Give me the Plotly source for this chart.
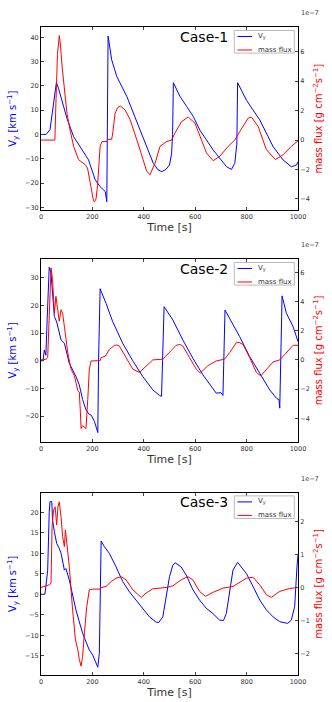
import plotly.graph_objects as go
from plotly.subplots import make_subplots

# ---- Case-1 ----
case1_t_vy = [0, 20, 35, 45, 52, 60, 68, 81, 101, 127, 150, 166, 185, 198, 211, 230, 250, 256,
              258, 261, 275, 295, 334, 360, 385, 411, 437, 455, 470, 485, 500, 508, 512, 515,
              541, 567, 593, 618, 670, 722, 741, 754, 762, 765, 800, 851, 903, 942, 974, 994, 1000]
case1_vy = [0, 0, 2, 10, 17, 21.4, 19, 14, 6.6, -0.9, -4.5, -7, -10.5, -14.6, -18.7, -21.5, -23.5, -27.7,
            0, 40.5, 30.7, 23.8, 15.6, 8.7, 1.8, -5, -11.9, -14.5, -15.3, -14.5, -12.6, -8, 0, 21.3,
            15.6, 11.5, 7.3, 1.8, -6.4, -13.3, -14.4, -11.9, -4, 21.3, 14, 6, -5, -10.5, -13.3, -12.6, -11.2]
# mass flux in units of 1e-7 g cm^-2 s^-1
case1_t_mf = [0, 54, 58, 64, 71, 75, 82, 88, 101, 114, 127, 146, 172, 181, 191, 198, 204, 208, 214,
              220, 226, 230, 237, 257, 260, 275, 280, 288, 298, 308, 327, 347, 373, 392, 411, 424,
              444, 463, 489, 508, 521, 547, 573, 599, 625, 644, 670, 696, 728, 754, 774, 806, 819,
              845, 877, 912, 942, 974, 1000]
case1_mf = [0, 0, 2.5, 5.8, 7.1, 6.6, 5.0, 3.86, 1.83, 0.59, -0.43, -1.33, -1.67, -1.9, -2.8, -3.6,
            -4.1, -4.2, -4.0, -3.1, -1.5, -0.43, -0.1, -0.1, 0.05, 0.05, 0.6, 1.8, 2.2, 2.32, 2.05,
            1.38, 0, -1.1, -2.1, -2.35, -1.56, -0.43, -0.1, 0, 0.47, 1.26, 1.56, 1.15, 0, -0.88,
            -1.4, -1.1, -0.43, 0, 0.59, 1.49, 1.56, 0.92, -0.65, -1.33, -1.0, -0.43, -0.05]

# ---- Case-2 ----
case2_t_vy = [0, 8, 13, 19, 24, 32, 39, 45, 52, 61, 71, 78, 91, 110, 136, 149, 162, 175, 186, 195,
              208, 221, 224, 230, 253, 279, 318, 357, 396, 435, 461, 469, 473, 479, 513, 552, 591,
              630, 682, 700, 708, 711, 716, 773, 812, 851, 890, 916, 926, 929, 933, 938, 955, 981, 1000]
case2_vy = [0, 0, 3.9, 2, 15, 33.7, 31.6, 23, 16, 14, 10, 7.5, 6.3, -0.9, -5.7, -8.7, -14, -17.7,
            -19.2, -19.6, -21.9, -25.9, 0, 26, 20.7, 14.1, 6.3, 0, -5.7, -10.5, -12.5, -12.8, 0,
            19.5, 14.7, 7.5, 0.9, -5.1, -11.7, -11.5, -12.5, 0, 18.3, 8.7, 1.5, -4.5, -10.5, -13.5,
            -14.1, -17.1, 0, 23.4, 17.1, 12.3, 6.9]
case2_t_mf = [0, 20, 26, 32, 39, 45, 52, 58, 65, 71, 78, 84, 91, 104, 117, 130, 143, 149, 153, 156,
              162, 169, 175, 182, 188, 195, 230, 234, 251, 266, 286, 295, 305, 331, 357, 383, 409,
              435, 474, 500, 526, 540, 552, 578, 604, 620, 649, 682, 714, 734, 760, 770, 786, 812,
              838, 855, 877, 903, 929, 955, 981, 1000]
case2_mf = [0, 0.05, 0.15, 3, 6.3, 5.5, 3.2, 4.35, 3.55, 2.65, 3.44, 3.2, 2.3, 0.5, -0.63, -1.09,
            -2.1, -2.2, -3.5, -4.7, -4.5, -4.6, -4.7, -2.7, -0.63, -0.07, -0.05, 0.15, 0.27, 0.72,
            1.0, 1.02, 0.95, 0.16, -0.63, -0.86, -0.4, 0, 0.05, 0.5, 1.0, 1.06, 0.95, 0.16, -0.63,
            -0.9, -0.4, -0.07, 0.05, 0.5, 1.18, 1.2, 1.06, 0.16, -0.86, -1.09, -0.63, -0.14, 0,
            0.5, 1.0, 1.0]

# ---- Case-3 ----
case3_t_vy = [0, 15, 19, 26, 32, 35, 42, 45, 52, 61, 69, 78, 91, 97, 110, 123, 136, 149, 162, 175,
              188, 201, 214, 221, 227, 230, 234, 247, 266, 292, 318, 344, 370, 396, 422, 448, 458,
              474, 487, 500, 513, 522, 545, 565, 591, 617, 643, 669, 695, 710, 721, 734, 747, 765,
              779, 799, 825, 851, 877, 903, 929, 960, 974, 987, 996, 1000]
case3_vy = [0, 0, 1.9, 5.9, 20, 22.6, 22.6, 18.1, 15.3, 12.4, 11.5, 10, 5.9, 6.3, 3.5, -0.6, -3.8,
            -6.7, -9.5, -11.6, -13.6, -14.8, -16.9, -17.8, -14.4, 0, 13, 11.6, 10, 6.7, 3.1, 0.6,
            -1.4, -3.4, -5.5, -6.8, -6.9, -5.5, -0.6, 4.3, 7.1, 7.7, 6.7, 4.7, 1.1, -1.4, -3.4,
            -4.7, -6.3, -6.4, -4.7, 1.1, 5.9, 7.8, 6.7, 5.1, 1.9, -1.4, -3.8, -5.5, -6.7, -7.1,
            -6.3, -3, 6.7, 9.6]
case3_t_mf = [0, 32, 39, 43, 49, 55, 61, 66, 71, 78, 84, 91, 95, 100, 110, 123, 134, 143, 149, 156,
              162, 169, 178, 188, 201, 230, 234, 253, 273, 292, 312, 331, 357, 390, 409, 435, 487,
              513, 545, 571, 591, 617, 640, 669, 708, 747, 773, 799, 825, 851, 877, 896, 929, 968, 1000]
case3_mf = [0, 0.08, 0.13, 1.85, 2.35, 2.45, 1.9, 2.45, 2.6, 2.15, 1.55, 1.24, 1.75, 1.34, 0.64,
            -0.68, -1.59, -1.89, -2.19, -2.39, -2.09, -1.38, -0.58, -0.07, -0.05, -0.05, 0, 0.03,
            0.18, 0.28, 0.33, 0.23, -0.07, -0.3, -0.17, -0.04, 0, 0.05, 0.23, 0.33, 0.23, -0.12,
            -0.27, -0.15, -0.02, 0.03, 0.15, 0.28, 0.31, 0.08, -0.22, -0.3, -0.12, -0.03, 0]

case_names = ["Case-1", "Case-2", "Case-3"]
time_ticks = [0, 200, 400, 600, 800, 1000]
legend_names = ["V<sub>y</sub>", "mass flux"]

# axis settings per panel: (left range, left dtick, right range, right dtick)
panels = [
    ((-31.1, 44.1), 10, (-4.75, 7.66), 2),
    ((-29.2, 36.6), 10, (-5.6, 6.89), 2),
    ((-19.7, 24.8), 5, (-2.66, 2.88), 1),
]

W, H = 332, 702
ML, MR, MT, MB = 41, 34, 27, 27
PW, PH = W - ML - MR, H - MT - MB
panel_top_px = [27.3, 259.3, 492.7]
panel_bot_px = [210, 441.7, 675]


def px_x(x):
    return (x - ML) / PW


def px_y(y):
    return (H - MB - y) / PH


BLUE = "#0000ff"
RED = "#ff0000"
FONT = "DejaVu Sans"
TICKFONT = dict(size=6.5, color="#333", family=FONT)

fig = make_subplots(rows=3, cols=1, specs=[[{"secondary_y": True}]] * 3)

series = [
    (case1_t_vy, case1_vy, case1_t_mf, case1_mf),
    (case2_t_vy, case2_vy, case2_t_mf, case2_mf),
    (case3_t_vy, case3_vy, case3_t_mf, case3_mf),
]

for i, (tv, vy, tm, mf) in enumerate(series):
    fig.add_trace(go.Scatter(x=tv, y=vy, mode="lines", name=legend_names[0],
                             line=dict(color=BLUE, width=1), showlegend=False),
                  row=i + 1, col=1, secondary_y=False)
    fig.add_trace(go.Scatter(x=tm, y=mf, mode="lines", name=legend_names[1],
                             line=dict(color=RED, width=1), showlegend=False),
                  row=i + 1, col=1, secondary_y=True)

layout = {}
for i in range(3):
    xa = "xaxis" if i == 0 else f"xaxis{i + 1}"
    ya = f"yaxis{2 * i + 1}" if i > 0 else "yaxis"
    yb = f"yaxis{2 * i + 2}"
    (lr, ld, rr, rd) = panels[i]
    dom = [px_y(panel_bot_px[i]), min(1.0, px_y(panel_top_px[i]))]
    layout[xa] = dict(
        domain=[0, 1],
        range=[0, 1000], tickvals=time_ticks, ticks="inside", ticklen=3,
        showline=True, linecolor="black", linewidth=1, mirror="ticks",
        showgrid=False, zeroline=False, automargin=False,
        tickfont=TICKFONT,
        title=dict(text="Time [s]", font=dict(size=11, color="#333", family=FONT), standoff=3),
    )
    layout[ya] = dict(
        domain=dom, range=list(lr), dtick=ld, ticks="inside", ticklen=3,
        showline=True, linecolor="black", linewidth=1,
        showgrid=False, zeroline=False, automargin=False,
        tickfont=TICKFONT,
        title=dict(text="V<sub>y</sub> [km s<sup>−1</sup>]",
                   font=dict(size=10, color=BLUE, family=FONT), standoff=6),
    )
    layout[yb] = dict(
        domain=dom, range=list(rr), dtick=rd, ticks="inside", ticklen=3,
        showline=True, linecolor="black", linewidth=1,
        showgrid=False, zeroline=False, automargin=False,
        tickfont=TICKFONT,
        title=dict(text="mass flux [g cm<sup>−2</sup>s<sup>−1</sup>]",
                   font=dict(size=10, color=RED, family=FONT), standoff=6),
    )

fig.update_layout(**layout)

annotations = []
shapes = []
for i in range(3):
    top = panel_top_px[i]
    # case label
    annotations.append(dict(
        text=case_names[i], x=px_x(230), y=px_y(top + 9.5), xref="paper", yref="paper",
        xanchor="right", yanchor="middle", showarrow=False,
        font=dict(size=14, color="black", family=FONT)))
    # offset text of the right axis
    annotations.append(dict(
        text="1e−7", x=px_x(299), y=px_y(top - 14), xref="paper", yref="paper",
        xanchor="left", yanchor="middle", showarrow=False,
        font=dict(size=6.5, color="#333", family=FONT)))
    # legend box
    bx0, bx1 = 234.3, 294.3
    by0, by1 = top + 3.2, top + 25.8
    shapes.append(dict(type="rect", xref="paper", yref="paper",
                       x0=px_x(bx0), x1=px_x(bx1), y0=px_y(by1), y1=px_y(by0),
                       line=dict(color="#bbbbbb", width=1), fillcolor="white", layer="above"))
    for k, col in enumerate([BLUE, RED]):
        ly = by0 + 6 + k * 13.5
        shapes.append(dict(type="line", xref="paper", yref="paper",
                           x0=px_x(237.5), x1=px_x(252), y0=px_y(ly), y1=px_y(ly),
                           line=dict(color=col, width=1), layer="above"))
        annotations.append(dict(
            text=legend_names[k], x=px_x(255.5), y=px_y(ly), xref="paper", yref="paper",
            xanchor="left", yanchor="middle", showarrow=False,
            font=dict(size=7, color="#333", family=FONT)))

fig.update_layout(
    width=W, height=H,
    margin=dict(l=ML, r=MR, t=MT, b=MB),
    paper_bgcolor="white", plot_bgcolor="white",
    font=dict(family=FONT),
    annotations=annotations,
    shapes=shapes,
    showlegend=False,
)

# no page margin and no scrollbars, so the figure sits exactly in the window
page_fix = ("document.body.style.margin='0';"
            "document.body.style.overflow='hidden';"
            "document.documentElement.style.overflow='hidden';")
fig.write_html("out.html", config={"displayModeBar": False}, post_script=page_fix)
